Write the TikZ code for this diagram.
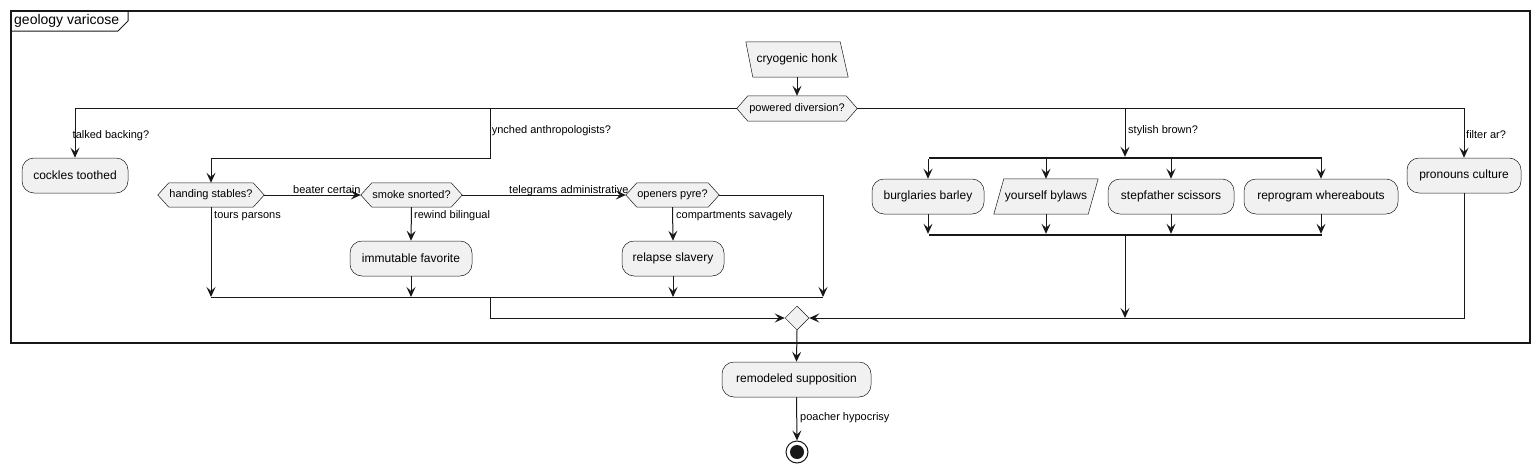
\documentclass[tikz,border=0pt]{standalone}
\usepackage{fontspec}
\setmainfont{Liberation Sans}
\usetikzlibrary{arrows.meta,shapes.geometric,backgrounds}
\definecolor{nfill}{HTML}{F1F1F1}
\definecolor{nline}{HTML}{181818}
\begin{document}
\begin{tikzpicture}[x=1pt,y=-1pt,
  act/.style={rectangle, rounded corners=12pt, draw=nline, line width=0.5pt, fill=nfill, minimum height=35pt, inner sep=0pt, font=\fontsize{12}{14}\selectfont},
  hexbox/.style={rectangle, minimum height=25pt, inner sep=0pt, font=\fontsize{11}{13}\selectfont},
  iobox/.style={rectangle, minimum height=35pt, inner sep=0pt, font=\fontsize{12}{14}\selectfont},
  lbl/.style={anchor=base west, inner sep=0pt, font=\fontsize{11}{13}\selectfont},
  arr/.style={draw=nline, line width=1pt, -{Stealth[length=10pt,width=9pt,inset=4pt]}},
  ln/.style={draw=nline, line width=1pt},
  shp/.style={draw=nline, line width=0.5pt, fill=nfill},
  bar/.style={rectangle, fill=nline, minimum height=2pt, inner sep=0pt}]
\useasboundingbox (0,0) rectangle (1540,471);
% frame
\draw[nline, line width=1.5pt] (11,11) rectangle (1530,343);
\draw[nline, line width=1pt] (11,31) -- (118,31) -- (128,21) -- (128,11);
\node[anchor=west, inner sep=0pt, font=\fontsize{14}{16}\selectfont] (ftitle) at (14,21) {geology varicose};
% nodes
\node[iobox, minimum width=102pt] (honk) at (797,59.5) {cryogenic honk};
\node[hexbox, minimum width=120pt] (pd) at (797,108.5) {powered diversion?};
\node[act, minimum width=106pt] (ct) at (75,175.5) {cockles toothed};
\node[hexbox, minimum width=106pt, minimum height=24pt] (hs) at (211,195) {handing stables?};
\node[hexbox, minimum width=101pt, minimum height=24pt] (ss) at (411.5,195) {smoke snorted?};
\node[hexbox, minimum width=93pt, minimum height=24pt] (op) at (672.5,195) {openers pyre?};
\node[act, minimum width=122pt] (imf) at (411,258.5) {immutable favorite};
\node[act, minimum width=102pt] (rs) at (673,258.5) {relapse slavery};
\node[bar, minimum width=393pt] (fork) at (1125,158) {};
\node[act, minimum width=112pt] (bb) at (928,196.5) {burglaries barley};
\node[iobox, minimum width=104pt] (yb) at (1046,196.5) {yourself bylaws};
\node[act, minimum width=126pt] (sts) at (1171,196.5) {stepfather scissors};
\node[act, minimum width=154pt] (rw) at (1321,196.5) {reprogram whereabouts};
\node[bar, minimum width=393pt] (join) at (1125,235) {};
\node[act, minimum width=114pt] (pc) at (1464,175.5) {pronouns culture};
\node[diamond, shp, minimum width=24pt, minimum height=24pt, inner sep=0pt] (mg) at (797,318) {};
\node[act, minimum width=149pt] (rsup) at (796.5,379.5) {remodeled supposition};
\node[circle, draw=nline, line width=1pt, fill=white, minimum size=22pt, inner sep=0pt] (end) at (797,452) {};
\node[circle, fill=nline, minimum size=14pt, inner sep=0pt] (endin) at (end.center) {};
% shapes behind texts
\begin{scope}[on background layer]
\foreach \n in {pd,hs,ss,op}
  \draw[shp] (\n.west) -- ([xshift=11pt]\n.north west) -- ([xshift=-11pt]\n.north east) -- (\n.east) -- ([xshift=-11pt]\n.south east) -- ([xshift=11pt]\n.south west) -- cycle;
\draw[shp] (honk.north west) -- ([xshift=-8pt]honk.north east) -- (honk.south east) -- ([xshift=7pt]honk.south west) -- cycle;
\draw[shp] ([xshift=10pt]yb.north west) -- (yb.north east) -- ([xshift=-10pt]yb.south east) -- (yb.south west) -- cycle;
\end{scope}
% junction coordinates
\coordinate (b2) at (490,108.5);
\coordinate (b2low) at (490,158);
\coordinate (m1) at (211,297);
\coordinate (m2) at (823,297);
\coordinate (m1mid) at (490,297);
\coordinate (opr) at (823,195);
% labels that sit under lines are drawn first
\node[lbl] at (72.5,138) {talked backing?};
\node[lbl] at (489.2,133) {lynched anthropologists?};
% connectors
\draw[arr] (honk.south) -- (pd.north);
\draw[arr] (pd.west) -| (ct.north);
\draw[arr] (b2) -- (b2low) -| (hs.north);
\draw[arr] (pd.east) -| (fork.north);
\draw[arr] (pd.east) -| (pc.north);
\node[lbl] at (1128,133) {stylish brown?};
\node[lbl] at (1466,138) {filter ar?};
% branch 2
\draw[arr] (hs.east) -- (ss.west);
\node[lbl] at (293,193) {beater certain};
\draw[arr] (ss.east) -- (op.west);
\node[lbl] at (509,193) {telegrams administrative};
\draw[arr] (hs.south) -- (hs.south |- m1);
\node[lbl] at (214,218) {tours parsons};
\draw[arr] (ss.south) -- (imf.north);
\node[lbl] at (414,218) {rewind bilingual};
\draw[arr] (imf.south) -- (imf.south |- m1);
\draw[arr] (op.south) -- (rs.north);
\node[lbl] at (676,218) {compartments savagely};
\draw[arr] (rs.south) -- (rs.south |- m1);
\draw[arr] (op.east) -- (opr) -- (m2);
\draw[ln] (m1) -- (m2);
\draw[arr] (m1mid) |- (mg.west);
% branch 3
\foreach \n in {bb,yb,sts,rw} {
  \draw[arr] (fork.south -| \n.north) -- (\n.north);
  \draw[arr] (\n.south) -- (\n.south |- join.north);
}
\draw[arr] (join.south) -- (join.south |- mg.center);
% branch 4
\draw[arr] (pc.south) |- (mg.east);
% after
\draw[arr] (mg.south) -- (rsup.north);
\draw[arr] (rsup.south) -- (end.north);
\node[lbl] at (800,420) {poacher hypocrisy};
\end{tikzpicture}
\end{document}
